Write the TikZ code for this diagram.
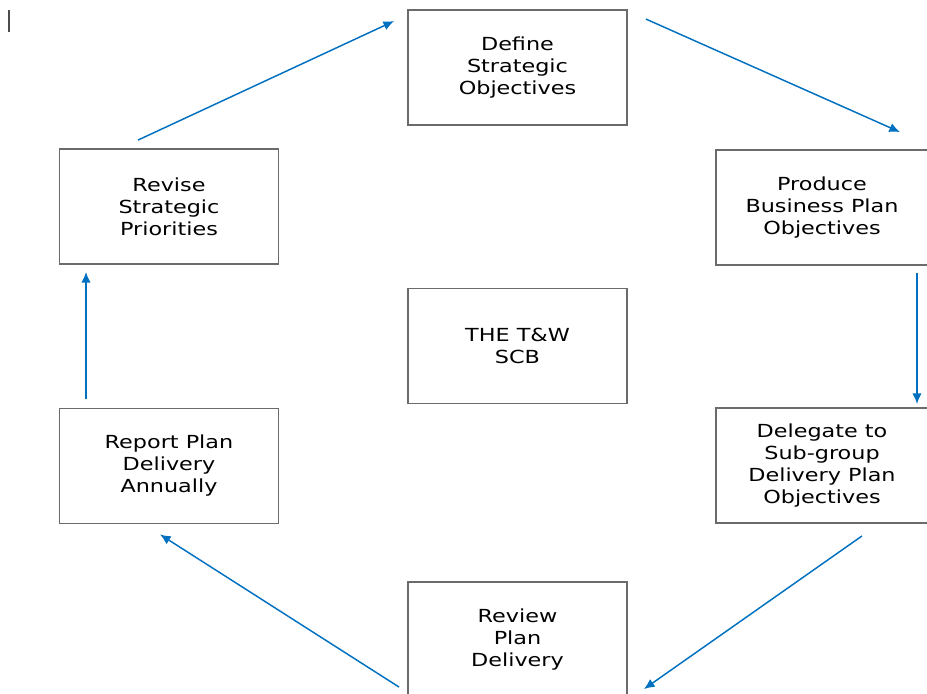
\documentclass[tikz,border=0pt]{standalone}
\usepackage{fontspec}
\setmainfont{DejaVu Sans}[FakeStretch=1.24]
\usetikzlibrary{arrows.meta}

\tikzset{
  stage/.style={draw=black!58, line width=1.4pt, align=center,
    minimum width=219*0.75pt, minimum height=115*0.75pt,
    font=\fontsize{13.5}{16.5}\selectfont, inner sep=0pt},
  flow/.style={-{Latex[length=8pt,width=7pt]}, draw={rgb,255:red,0;green,112;blue,192}, line width=1.1pt}
}

\begin{document}
\begin{tikzpicture}[x=0.75pt,y=-0.75pt]
    \clip (0,0) rectangle (927,693);

    \draw[black!70, line width=1.5pt] (8.5,10) -- (8.5,32);

    \node[stage] at (517.5,67.5) (Def) {Define\\Strategic\\Objectives};
    \node[stage, minimum width=212*0.75pt] at (822,207.5) (Pro) {Produce\\Business Plan\\Objectives};
    \node[stage, minimum width=212*0.75pt] at (822,465.5) (Del) {Delegate to\\Sub-group\\Delivery Plan\\Objectives};
    \node[stage] at (517.5,639.5) (Rev) {Review\\Plan\\Delivery};
    \node[stage] at (169,466) (Rep) {Report Plan\\Delivery\\Annually};
    \node[stage] at (169,206.5) (Pri) {Revise\\Strategic\\Priorities};
    \node[stage] at (517.5,346) (SCB) {THE T\&W\\SCB};

    \draw[flow] ([shift={(-31,-8)}]Pri.north) to ([shift={(-13,12)}]Def.north west);
    \draw[flow] ([shift={(18,10)}]Def.north east) to ([shift={(78,-17)}]Pro.north);
    \draw[flow] ([shift={(95,7)}]Pro.south) to ([shift={(95,-3)}]Del.north);
    \draw[flow] ([shift={(40,12)}]Del.south) to ([shift={(16,108)}]Rev.north east);
    \draw[flow] ([shift={(-8,106)}]Rev.north west) to ([shift={(-9,10)}]Rep.south);
    \draw[flow] ([shift={(-83,-9)}]Rep.north) to ([shift={(-83,7)}]Pri.south);
\end{tikzpicture}
\end{document}
